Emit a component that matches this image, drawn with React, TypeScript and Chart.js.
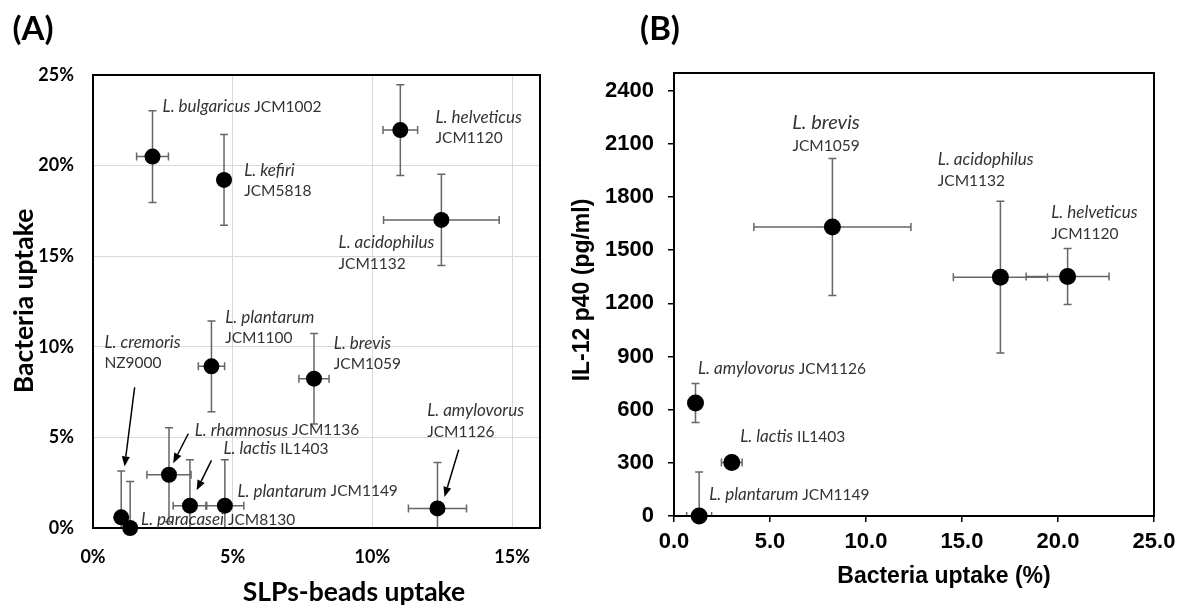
import React, { useEffect, useRef } from "react";
import { Chart, registerables } from "chart.js";
Chart.register(...registerables);

// ---------------- Panel A data ----------------
const speciesA = [
  "L. bulgaricus", "L. kefiri", "L. helveticus", "L. acidophilus", "L. plantarum", "L. brevis",
  "L. cremoris", "L. paracasei", "L. rhamnosus", "L. lactis", "L. plantarum", "L. amylovorus",
];
const strainsA = [
  "JCM1002", "JCM5818", "JCM1120", "JCM1132", "JCM1100", "JCM1059",
  "NZ9000", "JCM8130", "JCM1136", "IL1403", "JCM1149", "JCM1126",
];
const slpsUptake = [2.13, 4.69, 11.0, 12.47, 4.24, 7.91, 1.01, 1.33, 2.72, 3.47, 4.72, 12.33];
const slpsErr = [0.57, 0, 0.62, 2.07, 0.47, 0.54, 0, 0, 0.79, 0.6, 0.68, 1.04];
const bacteriaUptakeA = [20.5, 19.21, 21.96, 17.0, 8.92, 8.24, 0.59, 0.0, 2.94, 1.23, 1.23, 1.08];
const bacteriaErrA = [2.53, 2.5, 2.5, 2.52, 2.51, 2.5, 2.55, 2.56, 2.59, 2.54, 2.54, 2.54];
const xTicksA = [0, 5, 10, 15];
const yTicksA = [0, 5, 10, 15, 20, 25];

// ---------------- Panel B data ----------------
const speciesB = ["L. brevis", "L. acidophilus", "L. helveticus", "L. amylovorus", "L. lactis", "L. plantarum"];
const strainsB = ["JCM1059", "JCM1132", "JCM1120", "JCM1126", "IL1403", "JCM1149"];
const bacteriaUptakeB = [8.25, 17.0, 20.5, 1.12, 3.01, 1.31];
const bacteriaErrB = [4.09, 2.45, 2.16, 0, 0.54, 0.65];
const il12p40 = [1631, 1348, 1352, 638, 302, 0];
const il12Err = [386, 428, 158, 110, 0, 248];
const xTicksB = [0, 5, 10, 15, 20, 25];
const yTicksB = [0, 300, 600, 900, 1200, 1500, 1800, 2100, 2400];

// ---------------- annotation layout (data coordinates) ----------------
type LabelSpec = { i: number; x: number; y: number; two: boolean; align?: CanvasTextAlign; big?: boolean; gap?: number };
const labelsA: LabelSpec[] = [
  { i: 0, x: 2.49, y: 23.24, two: false },
  { i: 1, x: 5.41, y: 19.73, two: true },
  { i: 2, x: 12.26, y: 22.66, two: true },
  { i: 3, x: 8.79, y: 15.73, two: true },
  { i: 4, x: 4.73, y: 11.62, two: true },
  { i: 5, x: 8.62, y: 10.2, two: true },
  { i: 6, x: 0.41, y: 10.24, two: true },
  { i: 7, x: 1.72, y: 0.46, two: false },
  { i: 8, x: 3.64, y: 5.39, two: false },
  { i: 9, x: 4.67, y: 4.38, two: false },
  { i: 10, x: 5.17, y: 2.02, two: false },
  { i: 11, x: 11.96, y: 6.47, two: true },
];
const labelsB: LabelSpec[] = [
  { i: 0, x: 7.92, y: 2218, two: true, align: "center", big: true, gap: 23 },
  { i: 1, x: 13.74, y: 2010, two: true, gap: 21 },
  { i: 2, x: 19.65, y: 1710, two: true, gap: 21 },
  { i: 3, x: 1.25, y: 830, two: false },
  { i: 4, x: 3.45, y: 446, two: false },
  { i: 5, x: 1.83, y: 121, two: false },
];
type ArrowSpec = { x1: number; y1: number; x2: number; y2: number };
const arrowsA: ArrowSpec[] = [
  { x1: 1.49, y1: 7.76, x2: 1.13, y2: 3.4 },
  { x1: 3.41, y1: 5.2, x2: 2.87, y2: 3.58 },
  { x1: 4.24, y1: 3.73, x2: 3.71, y2: 2.08 },
  { x1: 13.09, y1: 4.32, x2: 12.58, y2: 1.71 },
];

const FONT_A = "Lato, 'Open Sans', sans-serif";
const FONT_B = "'Liberation Sans', Arial, sans-serif";

type TextSpec = { text: string; x: number; y: number; font: string; rotate?: boolean };

type OverlayOpts = {
  xs: number[]; ys: number[]; xErr: number[]; yErr: number[];
  cap: number; errColor: string; errWidth: number;
  boxWidth: number;
  labels: LabelSpec[]; species: string[]; strains: string[];
  italicSize: number; normalSize: number; bigSize: number;
  arrows: ArrowSpec[];
  texts: TextSpec[];
  offsetX: number;
};

function makeOverlay(o: OverlayOpts) {
  return {
    id: "overlay",
    beforeDatasetsDraw(chart: any) {
      const { ctx, chartArea: ca } = chart;
      const xs = chart.scales.x, ys = chart.scales.y;
      ctx.save();
      ctx.beginPath();
      ctx.rect(ca.left, ca.top, ca.right - ca.left, ca.bottom - ca.top);
      ctx.clip();
      ctx.strokeStyle = o.errColor;
      ctx.lineWidth = o.errWidth;
      for (let i = 0; i < o.xs.length; i++) {
        const px = xs.getPixelForValue(o.xs[i]);
        const py = ys.getPixelForValue(o.ys[i]);
        if (o.yErr[i] > 0) {
          const y1 = ys.getPixelForValue(o.ys[i] + o.yErr[i]);
          const y2 = ys.getPixelForValue(o.ys[i] - o.yErr[i]);
          ctx.beginPath();
          ctx.moveTo(px, y1); ctx.lineTo(px, y2);
          ctx.moveTo(px - o.cap, y1); ctx.lineTo(px + o.cap, y1);
          ctx.moveTo(px - o.cap, y2); ctx.lineTo(px + o.cap, y2);
          ctx.stroke();
        }
        if (o.xErr[i] > 0) {
          const x1 = xs.getPixelForValue(o.xs[i] - o.xErr[i]);
          const x2 = xs.getPixelForValue(o.xs[i] + o.xErr[i]);
          ctx.beginPath();
          ctx.moveTo(x1, py); ctx.lineTo(x2, py);
          ctx.moveTo(x1, py - o.cap); ctx.lineTo(x1, py + o.cap);
          ctx.moveTo(x2, py - o.cap); ctx.lineTo(x2, py + o.cap);
          ctx.stroke();
        }
      }
      ctx.restore();
    },
    afterDraw(chart: any) {
      const { ctx, chartArea: ca } = chart;
      const xs = chart.scales.x, ys = chart.scales.y;
      ctx.save();
      // box
      ctx.strokeStyle = "#000";
      ctx.lineWidth = o.boxWidth;
      ctx.strokeRect(ca.left, ca.top, ca.right - ca.left, ca.bottom - ca.top);
      // arrows
      ctx.fillStyle = "#000";
      ctx.lineWidth = 1.5;
      for (const a of o.arrows) {
        const x1 = xs.getPixelForValue(a.x1), y1 = ys.getPixelForValue(a.y1);
        const x2 = xs.getPixelForValue(a.x2), y2 = ys.getPixelForValue(a.y2);
        const ang = Math.atan2(y2 - y1, x2 - x1);
        const L = 10, W = 4;
        const bx = x2 - L * Math.cos(ang), by = y2 - L * Math.sin(ang);
        ctx.beginPath(); ctx.moveTo(x1, y1); ctx.lineTo(bx, by); ctx.stroke();
        ctx.beginPath();
        ctx.moveTo(x2, y2);
        ctx.lineTo(bx + W * Math.sin(ang), by - W * Math.cos(ang));
        ctx.lineTo(bx - W * Math.sin(ang), by + W * Math.cos(ang));
        ctx.closePath(); ctx.fill();
      }
      // labels
      ctx.fillStyle = "#333";
      ctx.textBaseline = "middle";
      for (const l of o.labels) {
        const px = xs.getPixelForValue(l.x), py = ys.getPixelForValue(l.y);
        const align = l.align || "left";
        const itFont = `italic ${l.big ? o.bigSize : o.italicSize}px ${FONT_A}`;
        const nFont = `${o.normalSize}px ${FONT_A}`;
        const sp = o.species[l.i], st = o.strains[l.i];
        if (l.two) {
          ctx.textAlign = align;
          ctx.font = itFont; ctx.fillText(sp, px, py);
          ctx.font = nFont; ctx.fillText(st, px, py + (l.gap || 21));
        } else {
          ctx.font = itFont;
          const w1 = ctx.measureText(sp + " ").width;
          ctx.font = nFont;
          const w2 = ctx.measureText(st).width;
          let sx = px;
          if (align === "center") sx = px - (w1 + w2) / 2;
          ctx.textAlign = "left";
          ctx.font = itFont; ctx.fillText(sp, sx, py);
          ctx.font = nFont; ctx.fillText(st, sx + w1, py);
        }
      }
      // titles
      ctx.fillStyle = "#000";
      for (const t of o.texts) {
        ctx.font = t.font;
        ctx.textAlign = "center";
        ctx.textBaseline = "middle";
        if (t.rotate) {
          ctx.save();
          ctx.translate(t.x - o.offsetX, t.y);
          ctx.rotate(-Math.PI / 2);
          ctx.fillText(t.text, 0, 0);
          ctx.restore();
        } else {
          ctx.fillText(t.text, t.x - o.offsetX, t.y);
        }
      }
      ctx.restore();
    },
  };
}

function PanelA() {
  const ref = useRef<HTMLCanvasElement | null>(null);
  useEffect(() => {
    if (!ref.current) return;
    const tickFont = { family: FONT_A, weight: "bold" as const, size: 18 };
    const chart = new Chart(ref.current, {
      type: "scatter",
      data: {
        datasets: [{
          data: slpsUptake.map((v, i) => ({ x: v, y: bacteriaUptakeA[i] })),
          backgroundColor: "#000", borderColor: "#000", borderWidth: 0,
          pointRadius: 8, pointHoverRadius: 8, clip: false as any,
        }],
      },
      options: {
        animation: false, responsive: false, devicePixelRatio: 1,
        layout: { padding: { top: 75, right: 20, left: 0, bottom: 0 } },
        plugins: { legend: { display: false }, tooltip: { enabled: false } },
        scales: {
          x: {
            type: "linear", min: 0, max: 16,
            afterBuildTicks: (s: any) => { s.ticks = xTicksA.map((v) => ({ value: v })); },
            afterFit: (s: any) => { s.height = 80; },
            ticks: { callback: (v: any) => v + "%", font: tickFont, color: "#000", padding: 18, maxRotation: 0, autoSkip: false },
            grid: { color: "#d9d9d9", lineWidth: 1, drawTicks: false },
            border: { display: false },
          },
          y: {
            type: "linear", min: 0, max: 25,
            afterBuildTicks: (s: any) => { s.ticks = yTicksA.map((v) => ({ value: v })); },
            afterFit: (s: any) => { s.width = 93; },
            ticks: { callback: (v: any) => v + "%", font: tickFont, color: "#000", padding: 19, autoSkip: false },
            grid: { color: "#d9d9d9", lineWidth: 1, drawTicks: false },
            border: { display: false },
          },
        },
      },
      plugins: [makeOverlay({
        xs: slpsUptake, ys: bacteriaUptakeA, xErr: slpsErr, yErr: bacteriaErrA,
        cap: 4, errColor: "#666", errWidth: 1.5, boxWidth: 2,
        labels: labelsA, species: speciesA, strains: strainsA,
        italicSize: 17, normalSize: 15.5, bigSize: 17,
        arrows: arrowsA,
        texts: [
          { text: "(A)", x: 33, y: 29, font: `bold 33px ${FONT_A}` },
          { text: "Bacteria uptake", x: 24, y: 301, font: `bold 26.5px ${FONT_A}`, rotate: true },
          { text: "SLPs-beads uptake", x: 354, y: 592, font: `bold 26.5px ${FONT_A}` },
        ],
        offsetX: 0,
      }) as any],
    });
    return () => chart.destroy();
  }, []);
  return <canvas ref={ref} width={560} height={608} style={{ position: "absolute", left: 0, top: 0, width: 560, height: 608 }} />;
}

function PanelB() {
  const ref = useRef<HTMLCanvasElement | null>(null);
  useEffect(() => {
    if (!ref.current) return;
    const tickFont = { family: FONT_B, weight: "bold" as const, size: 22 };
    const chart = new Chart(ref.current, {
      type: "scatter",
      data: {
        datasets: [{
          data: bacteriaUptakeB.map((v, i) => ({ x: v, y: il12p40[i] })),
          backgroundColor: "#000", borderColor: "#000", borderWidth: 0,
          pointRadius: 8.5, pointHoverRadius: 8.5, clip: false as any,
        }],
      },
      options: {
        animation: false, responsive: false, devicePixelRatio: 1,
        layout: { padding: { top: 73, right: 31, left: 0, bottom: 0 } },
        plugins: { legend: { display: false }, tooltip: { enabled: false } },
        scales: {
          x: {
            type: "linear", min: 0, max: 25,
            afterBuildTicks: (s: any) => { s.ticks = xTicksB.map((v) => ({ value: v })); },
            afterFit: (s: any) => { s.height = 92; },
            ticks: { callback: (v: any) => Number(v).toFixed(1), font: tickFont, color: "#000", padding: 7, maxRotation: 0, autoSkip: false },
            grid: { drawOnChartArea: false, drawTicks: true, tickLength: 6, color: "#000", lineWidth: 1.5 },
            border: { display: true, color: "#000", width: 1.5 },
          },
          y: {
            type: "linear", min: 0, max: 2500,
            afterBuildTicks: (s: any) => { s.ticks = yTicksB.map((v) => ({ value: v })); },
            afterFit: (s: any) => { s.width = 114; },
            ticks: { callback: (v: any) => String(v), font: tickFont, color: "#000", padding: 14, autoSkip: false },
            grid: { drawOnChartArea: false, drawTicks: true, tickLength: 6, color: "#000", lineWidth: 1.5 },
            border: { display: true, color: "#000", width: 1.5 },
          },
        },
      },
      plugins: [makeOverlay({
        xs: bacteriaUptakeB, ys: il12p40, xErr: bacteriaErrB, yErr: il12Err,
        cap: 4, errColor: "#666", errWidth: 1.5, boxWidth: 2,
        labels: labelsB, species: speciesB, strains: strainsB,
        italicSize: 17, normalSize: 15.5, bigSize: 20,
        arrows: [],
        texts: [
          { text: "(B)", x: 660, y: 29, font: `bold 33px ${FONT_A}` },
          { text: "IL-12 p40 (pg/ml)", x: 583, y: 290, font: `bold 23px ${FONT_B}`, rotate: true },
          { text: "Bacteria uptake (%)", x: 944, y: 577, font: `bold 23px ${FONT_B}` },
        ],
        offsetX: 560,
      }) as any],
    });
    return () => chart.destroy();
  }, []);
  return <canvas ref={ref} width={625} height={608} style={{ position: "absolute", left: 560, top: 0, width: 625, height: 608 }} />;
}

export default function App() {
  return (
    <div style={{ position: "fixed", left: 0, top: 0, width: 1185, height: 608, background: "#fff", overflow: "hidden" }}>
      <PanelA />
      <PanelB />
    </div>
  );
}
